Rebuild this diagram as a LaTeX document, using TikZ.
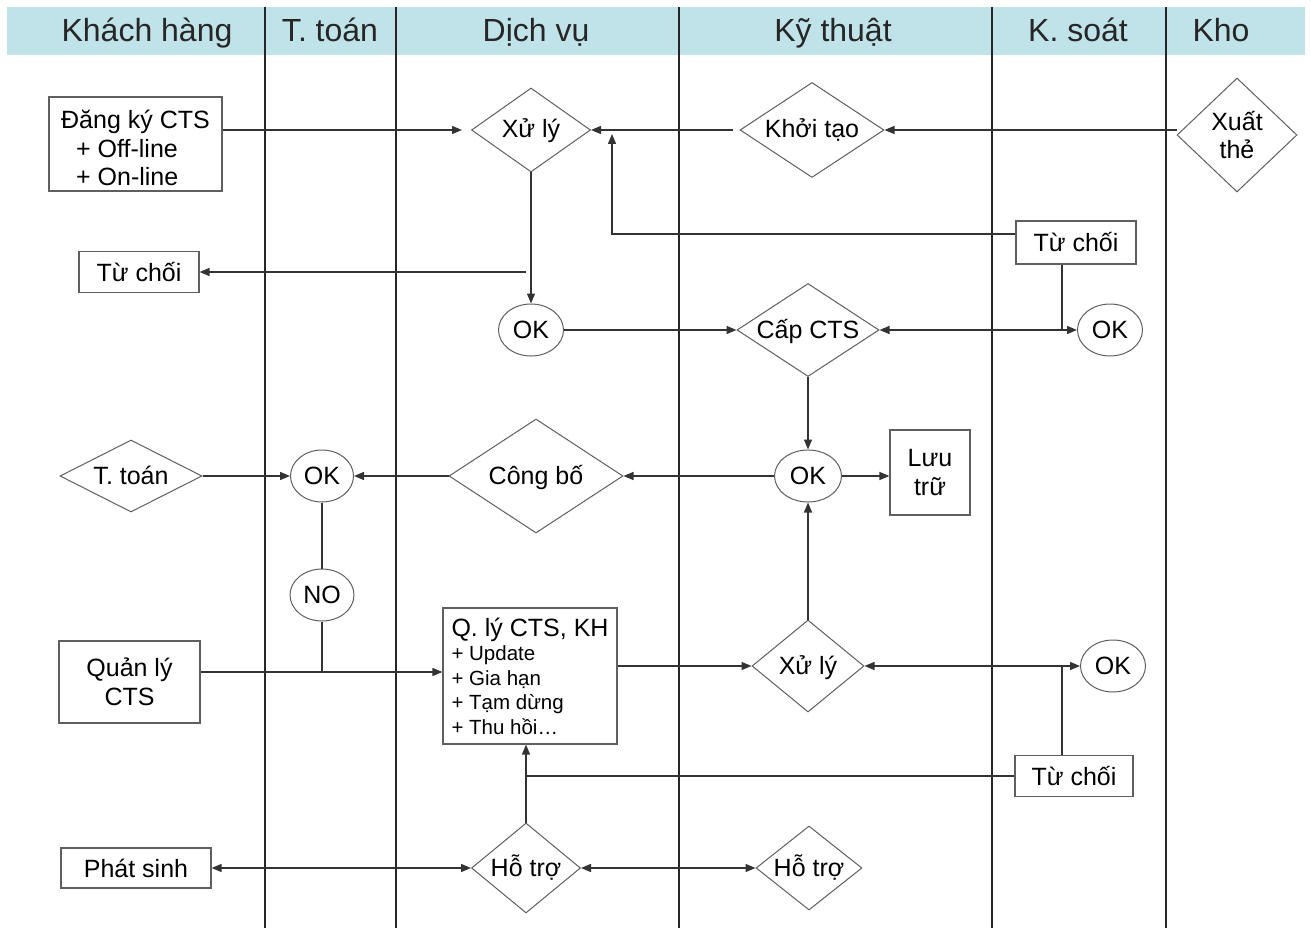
\documentclass[tikz,border=0pt]{standalone}
\usepackage{fontspec}
\setmainfont{Liberation Sans}
\usetikzlibrary{arrows.meta,shapes.geometric}

\definecolor{laneblue}{RGB}{192,227,233}
\definecolor{edgegray}{RGB}{95,95,95}

\begin{document}
\begin{tikzpicture}[
  x=1pt, y=-1pt,
  font=\fontsize{25}{28.5}\selectfont,
  box/.style={draw=edgegray, line width=1.2pt, fill=white, inner sep=3pt, align=center},
  dec/.style={draw=edgegray, diamond, line width=1pt, fill=white, inner sep=0pt, align=center},
  dec1/.style={dec, text height=19pt, text depth=3pt},
  okc/.style={draw=edgegray, ellipse, line width=1pt, fill=white, inner sep=0pt, minimum width=65pt, minimum height=52pt},
  lane/.style={anchor=base, font=\fontsize{32}{36}\selectfont, text=black!85},
  laneline/.style={line width=1.4pt, draw=black!85},
  arr/.style={-{Triangle[length=10pt,width=8pt]}, line width=1.4pt, draw=black!80},
  dbl/.style={{Triangle[length=10pt,width=8pt]}-{Triangle[length=10pt,width=8pt]}, line width=1.4pt, draw=black!80},
  link/.style={line width=1.4pt, draw=black!80}
]
\useasboundingbox (0,0) rectangle (1311,928);

\fill[laneblue] (7,7) rectangle (1305,55);
\foreach \x in {265,396,679,992,1166}
  \draw[laneline] (\x,7) -- (\x,928);
\node[lane] (hkhach) at (147,42) {Khách hàng};
\node[lane] (httoan) at (330,42) {T. toán};
\node[lane] (hdichvu) at (536,42) {Dịch vụ};
\node[lane] (hkythuat) at (833,42) {Kỹ thuật};
\node[lane] (hksoat) at (1078,42) {K. soát};
\node[lane] (hkho) at (1221,42) {Kho};

\node[box, minimum width=173pt, minimum height=94pt, align=left] (dangky) at (135.5,144) {\rule{0pt}{27pt}Đăng ký CTS\\\hspace*{0.6em}+ Off-line\\\hspace*{0.6em}+ On-line};
\node[dec1, minimum width=119pt, minimum height=84pt, aspect=1.42] (xuly1) at (531,130) {Xử lý};
\node[dec1, minimum width=144pt, minimum height=95pt, aspect=1.5] (khoitao) at (812,130) {Khởi tạo};
\node[dec, minimum width=120pt, minimum height=114pt, aspect=1.05] (xuatthe) at (1237,135) {Xuất\\thẻ};
\node[box, minimum width=120pt, minimum height=43pt] (tuchoi1) at (1076,242.5) {Từ chối};
\node[box, minimum width=120pt, minimum height=41pt] (tuchoi2) at (139,272) {Từ chối};
\node[okc] (ok1) at (531,330) {OK};
\node[dec1, minimum width=142pt, minimum height=93pt, aspect=1.53] (capcts) at (808,330) {Cấp CTS};
\node[okc] (ok2) at (1110,330) {OK};
\node[dec1, minimum width=142pt, minimum height=72pt, aspect=1.97] (ttoan) at (131,476) {T. toán};
\node[okc, minimum width=63pt] (ok3) at (322,476) {OK};
\node[dec1, minimum width=174pt, minimum height=114pt, aspect=1.53] (congbo) at (536,476) {Công bố};
\node[okc, minimum width=67pt] (ok4) at (808,476) {OK};
\node[box, minimum width=80pt, minimum height=85pt] (luutru) at (930,472.5) {Lưu\\trữ};
\node[okc, minimum width=64pt] (no) at (322,595) {NO};
\node[box, minimum width=141pt, minimum height=82pt] (quanly) at (129.5,682) {Quản lý\\CTS};
\node[box, minimum width=174pt, minimum height=136pt, align=left, inner xsep=8pt,
  font=\fontsize{20.5}{24.5}\selectfont] (qly) at (530,676)
  {{\fontsize{25}{28}\selectfont Q. lý CTS, KH}\\+ Update\\+ Gia hạn\\+ Tạm dừng\\+ Thu hồi…};
\node[dec1, minimum width=112pt, minimum height=92pt, aspect=1.22] (xuly2) at (808,666) {Xử lý};
\node[okc] (ok5) at (1113,666) {OK};
\node[box, minimum width=118pt, minimum height=41pt] (tuchoi3) at (1074,776) {Từ chối};
\node[box, minimum width=150pt, minimum height=40pt] (phatsinh) at (136,868) {Phát sinh};
\node[dec1, minimum width=109pt, minimum height=90pt, aspect=1.2] (hotro1) at (526,868) {Hỗ trợ};
\node[dec1, minimum width=106pt, minimum height=84pt, aspect=1.26] (hotro2) at (809,868) {Hỗ trợ};

\coordinate (up1) at (612,134);
\coordinate (rj1) at (526,272);
\coordinate (j1) at (1062,330);
\coordinate (j2) at (322,672);
\coordinate (j3) at (1062,666);
\coordinate (j4) at (526,776);

\draw[arr, shorten >=9pt] (dangky.east |- xuly1.west) -- (xuly1.west);
\draw[arr] ([xshift=-7pt]khoitao.west) -- (xuly1.east);
\draw[arr] (xuatthe.west |- khoitao.east) -- (khoitao.east);
\draw[arr] ([yshift=8.5pt]tuchoi1.west) -| (up1);
\draw[arr] (xuly1.south) -- (ok1.north);
\draw[arr] (rj1) -- (tuchoi2.east);
\draw[arr] (ok1.east) -- (capcts.west);
\draw[link] (j1 |- tuchoi1.south) -- (j1);
\draw[arr] (j1) -- (capcts.east);
\draw[arr] (j1) -- (ok2.west);
\draw[arr] (capcts.south) -- (ok4.north);
\draw[arr] (ok4.west) -- (congbo.east);
\draw[arr] (ok4.east) -- (ok4.east -| luutru.west);
\draw[arr] (congbo.west) -- (ok3.east);
\draw[arr] (ttoan.east) -- (ok3.west);
\draw[link] (ok3.south) -- (no.north);
\draw[link] (no.south) -- (j2);
\draw[arr] (quanly.east |- j2) -- (qly.west |- j2);
\draw[arr] (qly.east |- xuly2.west) -- (xuly2.west);
\draw[arr] (xuly2.north) -- (ok4.south);
\draw[link] (j3 |- tuchoi3.north) -- (j3);
\draw[arr] (j3) -- (xuly2.east);
\draw[arr] (j3) -- (ok5.west);
\draw[link] (tuchoi3.west) -- (j4);
\draw[arr] (hotro1.north) -- (hotro1.north |- qly.south);
\draw[dbl] (phatsinh.east) -- (hotro1.west);
\draw[dbl] (hotro1.east) -- (hotro2.west);
\end{tikzpicture}
\end{document}
